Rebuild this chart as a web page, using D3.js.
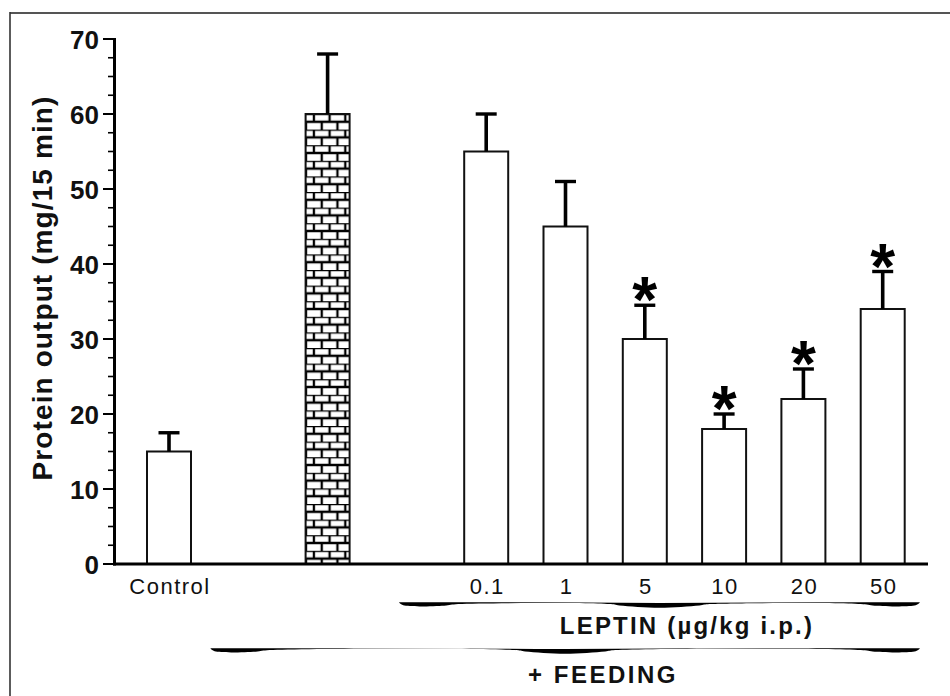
<!DOCTYPE html>
<html>
<head>
<meta charset="utf-8">
<script src="https://cdn.jsdelivr.net/npm/d3@7/dist/d3.min.js"></script>
<style>
  html, body { margin: 0; padding: 0; background: #fff; }
  svg { display: block; }
</style>
</head>
<body>
<svg id="chart" width="950" height="696"></svg>
<script>
// ---- data ----
const categories   = ["Control", "Feeding", "0.1", "1", "5", "10", "20", "50"];
const tickLabels   = ["Control", "", "0.1", "1", "5", "10", "20", "50"];
const groups       = ["control", "feeding", "leptin", "leptin", "leptin", "leptin", "leptin", "leptin"];
const meanValues   = [15, 60, 55, 45, 30, 18, 22, 34];
const semValues    = [2.5, 8, 5, 6, 4.5, 2, 4, 5];
const significant  = [false, false, false, false, true, true, true, true];
const yTicks       = [0, 10, 20, 30, 40, 50, 60, 70];
const yTitle       = "Protein output (mg/15 min)";
const leptinLabel  = "LEPTIN (\u00b5g/kg i.p.)";
const feedingLabel = "+ FEEDING";

// ---- layout ----
const svg = d3.select("#chart");
const axisX = 114.5, axisY = 564;

// slots: insert an empty slot between groups
const slotDomain = [];
categories.forEach((c, i) => {
  if (i > 0 && groups[i] !== groups[i - 1]) slotDomain.push("_gap" + i);
  slotDomain.push(c);
});
const x = d3.scalePoint().domain(slotDomain).range([169, 882.7]);
const y = d3.scaleLinear().domain([0, 70]).range([axisY, 39]);
const barW = 44;

// frame
svg.append("line").attr("x1", 10).attr("x2", 950).attr("y1", 13).attr("y2", 13)
  .attr("stroke", "#555").attr("stroke-width", 2.2);
svg.append("line").attr("x1", 10).attr("x2", 10).attr("y1", 12).attr("y2", 696)
  .attr("stroke", "#333").attr("stroke-width", 1.6);

// brick pattern
const bw = 15.7, bh = 7.8;
const defs = svg.append("defs");
const pat = defs.append("pattern").attr("id", "brick")
  .attr("patternUnits", "userSpaceOnUse")
  .attr("width", bw).attr("height", bh * 2)
  .attr("x", x("Feeding") - barW / 2 + 8.3).attr("y", y(60));
pat.append("rect").attr("width", bw).attr("height", bh * 2).attr("fill", "#fff");
pat.append("path")
  .attr("d", `M0,0H${bw}M0,${bh}H${bw}M0,0V${bh}M${bw},0V${bh}M${bw/2},${bh}V${bh*2}`)
  .attr("stroke", "#000").attr("stroke-width", 2.3).attr("fill", "none");

// bars
const g = svg.append("g");
categories.forEach((c, i) => {
  const cx = x(c);
  g.append("rect")
    .attr("x", cx - barW / 2).attr("y", y(meanValues[i]))
    .attr("width", barW).attr("height", y(0) - y(meanValues[i]))
    .attr("fill", groups[i] === "feeding" ? "url(#brick)" : "#fff")
    .attr("stroke", "#111").attr("stroke-width", 2);
  // error bar
  const top = y(meanValues[i] + semValues[i]);
  g.append("line").attr("x1", cx).attr("x2", cx)
    .attr("y1", y(meanValues[i])).attr("y2", top)
    .attr("stroke", "#000").attr("stroke-width", 3.6);
  g.append("line").attr("x1", cx - 10.5).attr("x2", cx + 10.5)
    .attr("y1", top).attr("y2", top)
    .attr("stroke", "#000").attr("stroke-width", 3.4);
  if (significant[i]) {
    g.append("text").attr("x", cx).attr("y", top + 17)
      .attr("text-anchor", "middle")
      .attr("font-family", "'Liberation Sans', Arial, sans-serif")
      .attr("font-weight", "bold").attr("font-size", 64)
      .attr("fill", "#000").text("*");
  }
});

// y axis
const ya = svg.append("g");
ya.append("line").attr("x1", axisX).attr("x2", axisX).attr("y1", y(70) - 1).attr("y2", axisY + 1.5)
  .attr("stroke", "#000").attr("stroke-width", 3);
const minorTicks = d3.range(0, 70.01, 2.5).filter(v => v % 10 !== 0);
minorTicks.forEach(v => {
  ya.append("line").attr("x1", 108).attr("x2", axisX).attr("y1", y(v)).attr("y2", y(v))
    .attr("stroke", "#000").attr("stroke-width", 1.6);
});
yTicks.forEach(v => {
  ya.append("line").attr("x1", 103).attr("x2", axisX).attr("y1", y(v)).attr("y2", y(v))
    .attr("stroke", "#000").attr("stroke-width", 2);
  ya.append("text").attr("x", 99).attr("y", y(v) + 9.5)
    .attr("text-anchor", "end")
    .attr("font-family", "'Liberation Sans', Arial, sans-serif")
    .attr("font-weight", "bold").attr("font-size", 26)
    .attr("fill", "#111").text(v);
});
svg.append("text")
  .attr("transform", `translate(51.5,288) rotate(-90)`)
  .attr("text-anchor", "middle")
  .attr("font-family", "'Liberation Sans', Arial, sans-serif")
  .attr("font-weight", "bold").attr("font-size", 28)
  .attr("letter-spacing", 1.1)
  .attr("fill", "#111").text(yTitle);

// x axis
svg.append("line").attr("x1", axisX - 1.5).attr("x2", 928).attr("y1", axisY).attr("y2", axisY)
  .attr("stroke", "#000").attr("stroke-width", 3);
categories.forEach((c, i) => {
  if (!tickLabels[i]) return;
  svg.append("text").attr("x", x(c) + 1).attr("y", 594)
    .attr("text-anchor", "middle")
    .attr("font-family", "'Liberation Sans', Arial, sans-serif")
    .attr("font-size", 22).attr("letter-spacing", 1.5)
    .attr("fill", "#111").text(tickLabels[i]);
});

// braces
function brace(x0, x1, yy, cx) {
  const E = 45, C = 40;
  const pts = [
    [x1, yy + 0.3], [x1 - 4, yy + 2.8], [x1 - E, yy + 3.2], [x1 - E - 14, yy + 1.6],
    [cx + C + 10, yy + 1.6], [cx + C, yy + 2.9], [cx, yy + 5.2], [cx - C, yy + 2.9],
    [cx - C - 10, yy + 1.6], [x0 + E + 14, yy + 1.6], [x0 + E, yy + 3.2], [x0 + 4, yy + 2.8],
    [x0, yy + 0.3]
  ];
  const bottom = d3.line().curve(d3.curveCatmullRom)(pts).replace(/^M/, "L");
  return `M${x0},${yy - 0.3}Q${(x0 + cx) / 2},${yy - 0.6} ${cx},${yy + 0.6}Q${(cx + x1) / 2},${yy - 0.6} ${x1},${yy - 0.3}${bottom}Z`;
}
const lx0 = x("0.1") - 87, lx1 = x("50") + 37;
svg.append("path").attr("d", brace(lx0, lx1, 602.5, (lx0 + lx1) / 2)).attr("fill", "#000");
const fx0 = x("Feeding") - 117;
svg.append("path").attr("d", brace(fx0, lx1, 648.5, (fx0 + lx1) / 2)).attr("fill", "#000");

svg.append("text").attr("x", 687).attr("y", 634)
  .attr("text-anchor", "middle")
  .attr("font-family", "'Liberation Sans', Arial, sans-serif")
  .attr("font-weight", "bold").attr("font-size", 24).attr("letter-spacing", 2.2)
  .attr("fill", "#111").text(leptinLabel);
svg.append("text").attr("x", 603).attr("y", 683)
  .attr("text-anchor", "middle")
  .attr("font-family", "'Liberation Sans', Arial, sans-serif")
  .attr("font-weight", "bold").attr("font-size", 24).attr("letter-spacing", 2.5)
  .attr("fill", "#111").text(feedingLabel);
</script>
</body>
</html>
